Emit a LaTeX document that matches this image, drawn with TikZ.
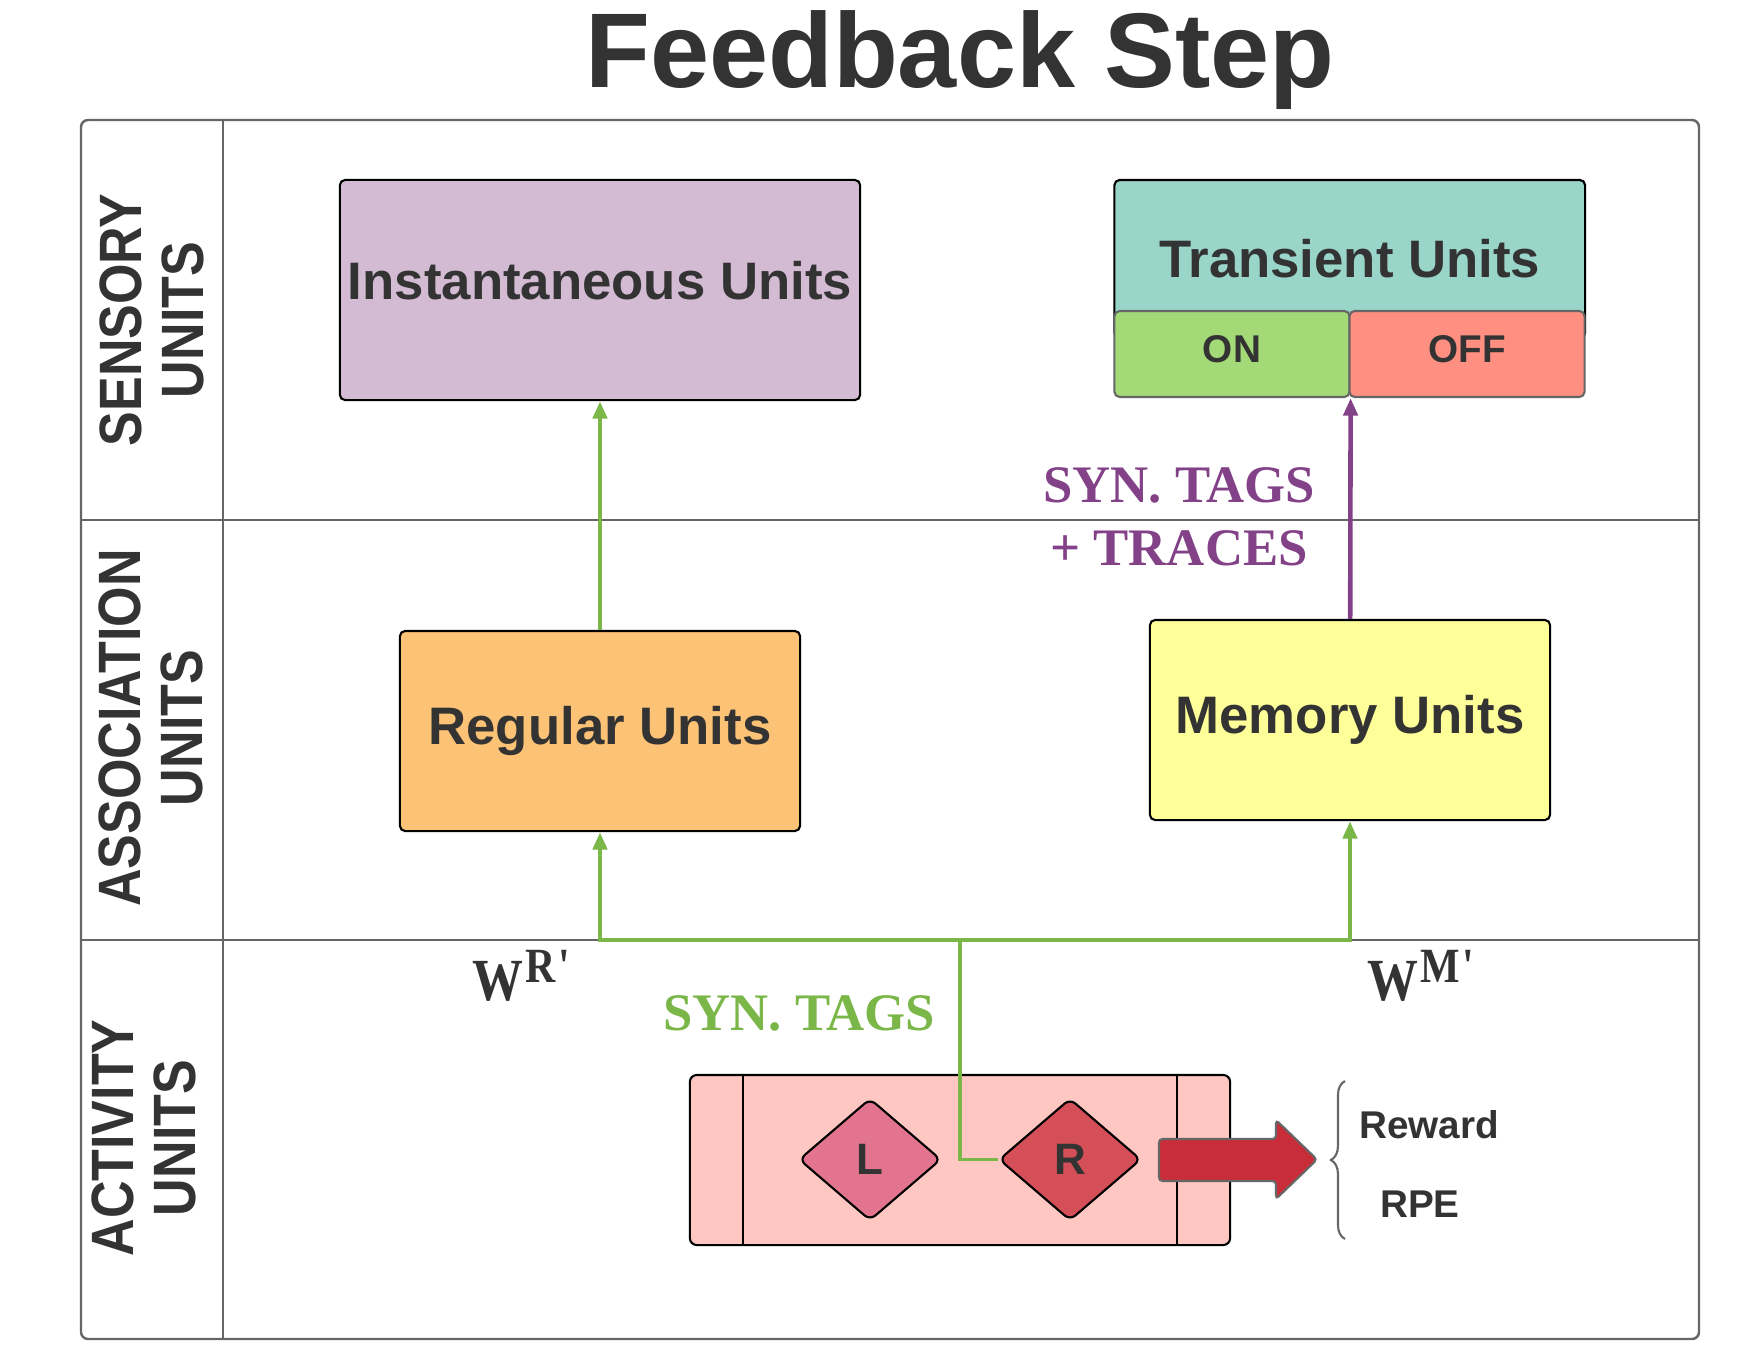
\documentclass[tikz,border=0pt]{standalone}
\usepackage{fontspec}
\setmainfont{Liberation Sans}
\newfontfamily\tagfont{Liberation Serif}
\newfontfamily\weightfont[FakeStretch=0.85]{Liberation Serif}
\newfontfamily\lanefont[FakeStretch=0.87]{Liberation Sans}
\usetikzlibrary{arrows.meta, positioning, shapes.geometric, decorations.pathreplacing}

\definecolor{ink}{HTML}{333333}
\definecolor{laneline}{HTML}{666666}
\definecolor{instfill}{HTML}{D3BBD3}
\definecolor{transfill}{HTML}{9AD5CA}
\definecolor{onfill}{HTML}{A3D977}
\definecolor{offfill}{HTML}{FF8F80}
\definecolor{regfill}{HTML}{FCC275}
\definecolor{memfill}{HTML}{FFFF99}
\definecolor{actfill}{HTML}{FFC7C2}
\definecolor{lfill}{HTML}{E37490}
\definecolor{rfill}{HTML}{D44F57}
\definecolor{rpered}{HTML}{C92D39}
\definecolor{syngreen}{HTML}{7AB648}
\definecolor{tracepurple}{HTML}{834187}

\begin{document}
\begin{tikzpicture}[x=0.01cm, y=-0.01cm,
    unitbox/.style={draw=black, line width=0.6pt, rounded corners=1.5pt, text=ink,
        inner sep=0pt, font=\bfseries\fontsize{15}{18}\selectfont},
    subbox/.style={draw=laneline, line width=0.6pt, rounded corners=1.5pt, text=ink,
        inner sep=0pt, text depth=2.6pt, font=\bfseries\fontsize{11}{13}\selectfont},
    lane/.style={rotate=90, align=center, text=ink,
        font=\lanefont\bfseries\fontsize{17}{17.6}\selectfont},
    tagtext/.style={align=center, font=\tagfont\bfseries\fontsize{15}{18}\selectfont},
    weight/.style={anchor=base west, inner sep=0pt, text=ink,
        font=\weightfont\bfseries\fontsize{17}{18}\selectfont},
    choice/.style={diamond, draw=black, line width=0.6pt, rounded corners=2pt,
        minimum width=1.42cm, minimum height=1.22cm, inner sep=0pt, text=ink,
        font=\bfseries\fontsize{12.5}{14}\selectfont},
    feed/.style={draw=syngreen, line width=1.3pt, -{Triangle[length=5pt, width=4pt]}},
    small/.style={text=ink, font=\bfseries\fontsize{11}{13}\selectfont}]

    \useasboundingbox (0,0) rectangle (1760,1360);

    % swimlanes
    \draw[laneline, line width=0.7pt, rounded corners=2pt] (81,120) rectangle (1699,1339);
    \draw[laneline, line width=0.7pt] (223,120) -- (223,1339);
    \draw[laneline, line width=0.7pt] (81,520) -- (1699,520);
    \draw[laneline, line width=0.7pt] (81,940) -- (1699,940);

    \node[anchor=base, text=ink, font=\bfseries\fontsize{30.2}{32}\selectfont] (title) at (960,87) {Feedback Step};

    \node[lane] (sensory) at (152,320) {SENSORY\\UNITS};
    \node[lane] (assoc) at (151,728) {ASSOCIATION\\UNITS};
    \node[lane] (activity) at (144,1138) {ACTIVITY\\UNITS};

    % unit boxes
    \node[unitbox, fill=instfill, minimum width=5.2cm, minimum height=2.2cm, text depth=5.7pt] (inst) at (600,290) {Instantaneous Units};
    \node[unitbox, fill=transfill, minimum width=4.705cm, minimum height=1.58cm] (trans) at (1349.75,259) {Transient Units};
    \node[subbox, fill=onfill, minimum width=2.35cm, minimum height=0.86cm] (on) at (1232,354) {ON};
    \node[subbox, fill=offfill, minimum width=2.35cm, minimum height=0.86cm] (off) at (1467,354) {OFF};
    \node[unitbox, fill=regfill, minimum width=4cm, minimum height=2cm] (reg) at (600,731) {Regular Units};
    \node[unitbox, fill=memfill, minimum width=4cm, minimum height=2cm] (mem) at (1350,720) {Memory Units};

    % activity units
    \node[draw=black, fill=actfill, line width=0.6pt, rounded corners=2pt, minimum width=5.4cm, minimum height=1.7cm] (act) at (960,1160) {};
    \draw[line width=0.6pt] ([xshift=0.54cm]act.north west) -- ([xshift=0.54cm]act.south west);
    \draw[line width=0.6pt] ([xshift=-0.54cm]act.north east) -- ([xshift=-0.54cm]act.south east);
    \node[choice, fill=lfill] (left) at (870,1159.5) {L};
    \node[choice, fill=rfill] (right) at (1070,1159.5) {R};

    % connectors
    \coordinate (split) at (960,940);
    \draw[feed] (reg) -- (inst);
    \draw[feed] (split) -| (reg);
    \draw[feed] (split) -| (mem);
    \draw[syngreen, line width=1pt] (split) |- (right.west);
    \draw[draw=tracepurple, line width=1.3pt, -{Triangle[length=5pt, width=4pt]}] (mem) -- (on.south east);

    % labels
    \node[weight] (wr) at (472,1000) {W\kern0.6pt\raisebox{5.1pt}{\fontsize{14}{14}\selectfont R\kern0.8pt\textquotesingle}};
    \node[weight] (wm) at (1367,1000) {W\kern0.6pt\raisebox{5.1pt}{\fontsize{14}{14}\selectfont M\kern0.8pt\textquotesingle}};
    \node[tagtext, text=syngreen] (syntag) at (799,1013) {SYN. TAGS};
    \node[tagtext, text=tracepurple] (tracetag) at (1179,517) {SYN. TAGS\\+ TRACES};

    % reward signal
    \draw[draw=laneline, fill=rpered, line width=0.6pt, rounded corners=1pt]
        (1159,1139) -- (1276,1139) -- (1276,1120) -- (1317,1159.5) -- (1276,1199) -- (1276,1181) -- (1159,1181) -- cycle;
    \draw[laneline, line width=0.6pt, decorate, decoration={brace, amplitude=4pt}] (1345,1239) -- (1345,1081);
    \node[small] (reward) at (1429,1125) {Reward};
    \node[small] (rpe) at (1420,1204) {RPE};
\end{tikzpicture}
\end{document}
